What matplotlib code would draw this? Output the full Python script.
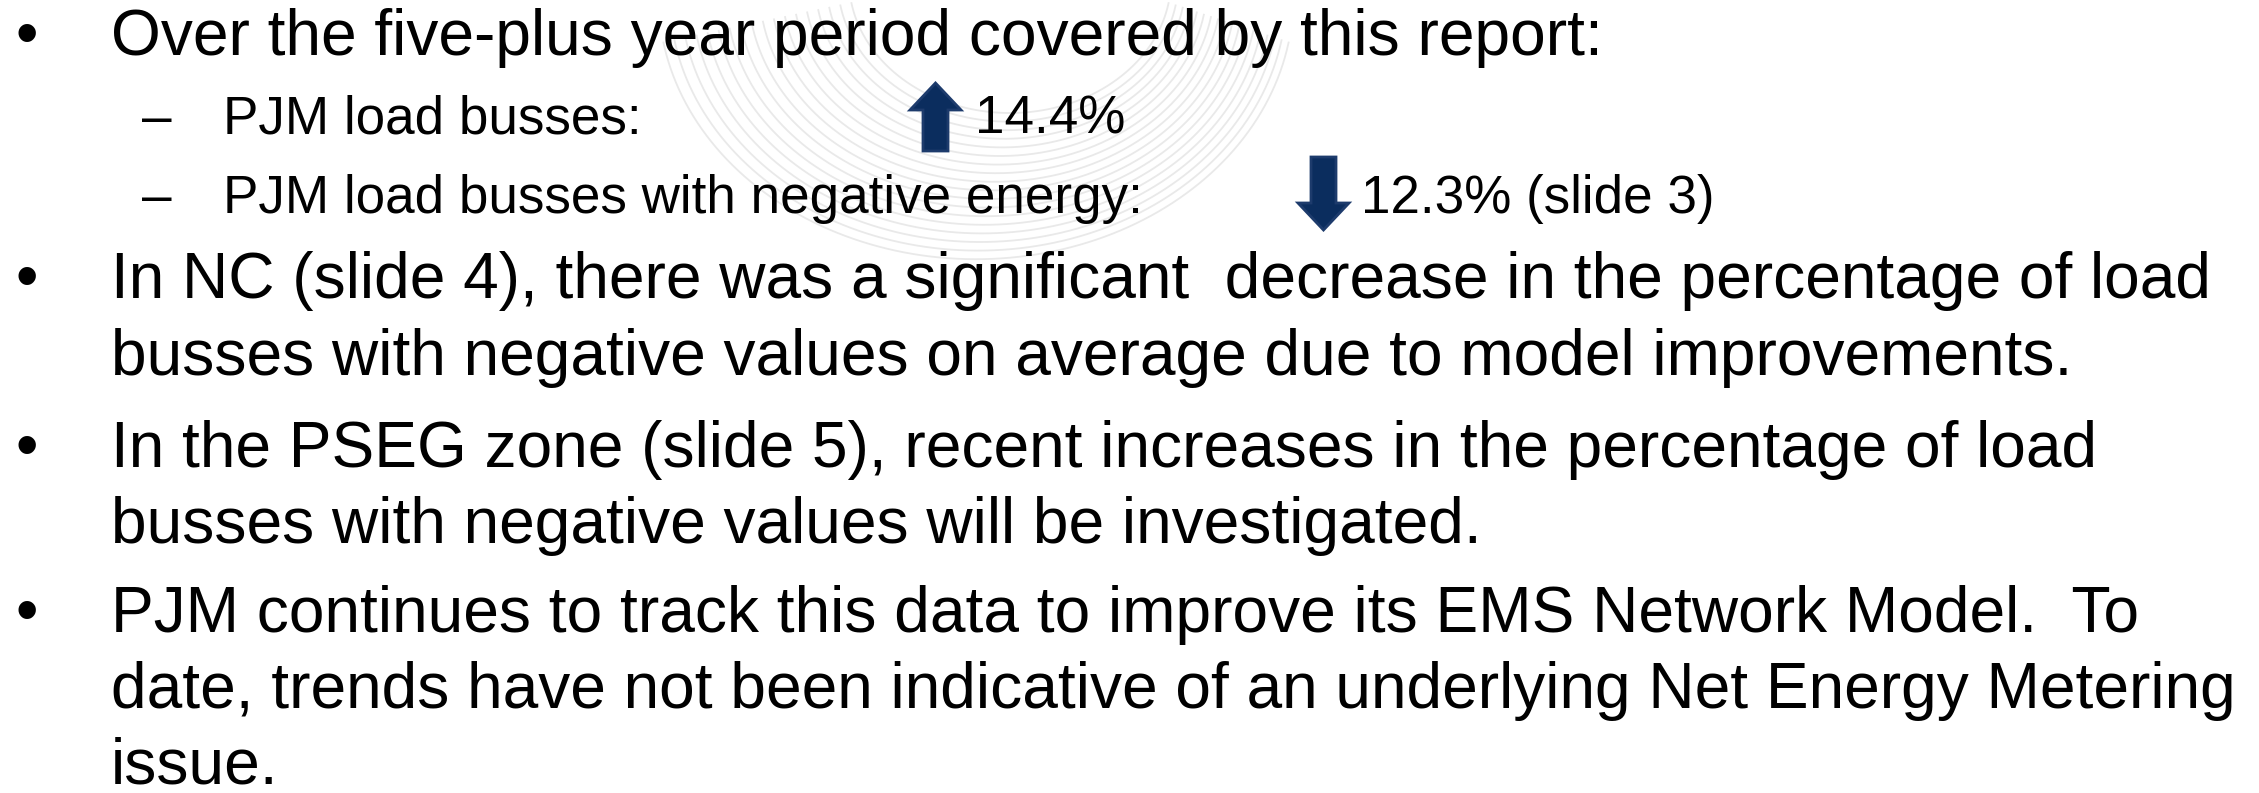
import numpy as np
import matplotlib
matplotlib.use("Agg")
import matplotlib.pyplot as plt
from matplotlib.patches import FancyArrow

# ---- content ----
intro_line = "Over the five-plus year period covered by this report:"
sub_labels = ["PJM load busses:", "PJM load busses with negative energy:"]
sub_changes = [14.4, -12.3]          # percent change over the period
sub_notes = ["", " (slide 3)"]
bullets = [
    ["In NC (slide 4), there was a significant  decrease in the percentage of load",
     "busses with negative values on average due to model improvements."],
    ["In the PSEG zone (slide 5), recent increases in the percentage of load",
     "busses with negative values will be investigated."],
    ["PJM continues to track this data to improve its EMS Network Model.  To",
     "date, trends have not been indicative of an underlying Net Energy Metering",
     "issue."],
]

# ---- layout ----
W, H = 2259, 793
FONT = "Liberation Sans"
MAIN_PT = 46.1
SUB_PT = 38.2
TEXT_X = 111
BULLET_X = 27
DASH_X = 142
SUB_TEXT_X = 223
ARROW_X = [935.5, 1323.5]
PCT_X = [975, 1361]
NAVY = "#0b2d5e"
EDGE = "#1d3b6c"

fig = plt.figure(figsize=(W / 100, H / 100), dpi=100)
ax = fig.add_axes([0, 0, 1, 1])
ax.set_xlim(0, W)
ax.set_ylim(H, 0)
ax.axis("off")

# faint watermark arcs (background logo)
t = np.linspace(np.radians(10), np.radians(170), 300)
for i in range(18):
    r = 140 + i * 8
    cx, cy = 1010 - i * 2, -20 + i * 1
    ax.plot(cx + r * 1.15 * np.cos(t), cy + r * np.sin(t) * 0.95,
            color="#e9e9e9", lw=1.3, zorder=0)

def bullet(y):
    ax.text(BULLET_X, y, "\u2022", fontsize=MAIN_PT, family=FONT,
            ha="center", va="baseline", color="black")

y = 55
bullet(y)
ax.text(TEXT_X, y, intro_line, fontsize=MAIN_PT, family=FONT, va="baseline")

for k, (lab, ch, note) in enumerate(zip(sub_labels, sub_changes, sub_notes)):
    y += 79
    ax.text(DASH_X, y, "\u2013", fontsize=SUB_PT, family=FONT, va="baseline")
    ax.text(SUB_TEXT_X, y, lab, fontsize=SUB_PT, family=FONT, va="baseline")
    if ch > 0:
        y0, dy = y + 17, -68
    else:
        y0, dy = y - 56, 73
    ax.add_patch(FancyArrow(ARROW_X[k], y0, 0, dy, width=25, head_width=51,
                            head_length=27, length_includes_head=True,
                            facecolor=NAVY, edgecolor=EDGE, lw=2, zorder=3))
    ax.text(PCT_X[k], y, f"{abs(ch):.1f}%{note}", fontsize=SUB_PT,
            family=FONT, va="baseline")

gaps = [85, 92, 89]
wraps = [77, 76, 76]
for para, gap, wrap in zip(bullets, gaps, wraps):
    y += gap
    bullet(y)
    for j, line in enumerate(para):
        if j > 0:
            y += wrap
        ax.text(TEXT_X, y, line, fontsize=MAIN_PT, family=FONT, va="baseline")

fig.savefig("out.png", dpi=100, facecolor="white")
